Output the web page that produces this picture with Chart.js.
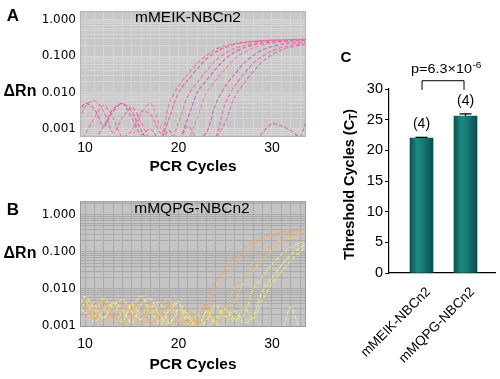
<!DOCTYPE html>
<html><head><meta charset="utf-8">
<script src="https://cdn.jsdelivr.net/npm/chart.js@4/dist/chart.umd.min.js"></script>
<style>
html,body{margin:0;padding:0;background:#fff;}
body{width:500px;height:379px;position:relative;overflow:hidden;font-family:"Liberation Sans",Arial,sans-serif;}
canvas{position:absolute;}
.lbl{position:absolute;font-weight:bold;color:#000;text-align:center;white-space:nowrap;}
</style></head><body>
<canvas id="ca" width="320" height="190" style="left:0;top:0"></canvas>
<canvas id="cb" width="320" height="189" style="left:0;top:190px"></canvas>
<canvas id="cc" width="180" height="379" style="left:320px;top:0"></canvas>
<div class="lbl" style="left:3px;top:6px;width:20px;font-size:17px;line-height:19px;">A</div>
<div class="lbl" style="left:0;top:82px;width:40px;font-size:16px;line-height:18px;">ΔRn</div>
<div class="lbl" style="left:3px;top:200px;width:20px;font-size:17px;line-height:19px;">B</div>
<div class="lbl" style="left:0;top:243.5px;width:40px;font-size:16px;line-height:18px;">ΔRn</div>
<div class="lbl" style="left:336px;top:48px;width:20px;font-size:15px;line-height:17px;">C</div>
<script>
// ---------------- data ----------------
const CYCLES = [9,10,11,12,13,14,15,16,17,18,19,20,21,22,23,24,25,26,27,28,29,30,31,32,33,34];
const Y_TICKS = [0.001, 0.01, 0.1, 1];
const X_TICKS = [10, 20, 30];

// Panel A: mMEIK-NBCn2 amplification curves (delta Rn per cycle 9..34)
const MEIK_1 = [0.0009,0.004,0.006,0.003,0.0008,0.002,0.004,0.0015,0.0005,0.0004,0.005,0.015,0.032,0.065,0.105,0.155,0.195,0.225,0.245,0.26,0.27,0.278,0.285,0.29,0.295,0.298];
const MEIK_2 = [0.002,0.005,0.0035,0.0012,0.003,0.005,0.002,0.0007,0.001,0.0005,0.002,0.01,0.022,0.045,0.085,0.13,0.175,0.21,0.235,0.255,0.265,0.275,0.28,0.285,0.29,0.292];
const MEIK_3 = [0.0003,0.0007,0.002,0.0045,0.002,0.0006,0.0009,0.003,0.0025,0.0008,0.0004,0.0015,0.008,0.019,0.04,0.078,0.12,0.165,0.2,0.23,0.25,0.262,0.272,0.278,0.283,0.287];
const MEIK_4 = [0.0004,0.0003,0.0005,0.0012,0.0035,0.005,0.003,0.0009,0.0004,0.0003,0.0006,0.0005,0.002,0.01,0.022,0.045,0.085,0.13,0.172,0.205,0.23,0.248,0.26,0.268,0.275,0.28];
const MEIK_5 = [0.0003,0.0004,0.0003,0.0005,0.0004,0.0003,0.0006,0.0025,0.005,0.0012,0.0004,0.0003,0.0005,0.002,0.01,0.022,0.045,0.085,0.128,0.168,0.2,0.225,0.242,0.255,0.263,0.27];
const MEIK_6 = [0.0003,0.0003,0.0004,0.0003,0.0003,0.0004,0.0003,0.0004,0.0003,0.0004,0.0009,0.0003,0.0004,0.0005,0.0008,0.005,0.015,0.032,0.065,0.105,0.15,0.185,0.21,0.228,0.24,0.25];
const MEIK_7 = [0.0003,0.0003,0.0003,0.0003,0.0003,0.0003,0.0003,0.0003,0.0003,0.0003,0.0003,0.0004,0.0012,0.0005,0.0003,0.0006,0.005,0.015,0.032,0.065,0.1,0.14,0.175,0.2,0.215,0.228];
const MEIK_8 = [0.0003,0.0003,0.0003,0.0003,0.0003,0.0003,0.0003,0.0003,0.0003,0.0003,0.0003,0.0003,0.0003,0.0003,0.0004,0.0006,0.0015,0.0075,0.018,0.038,0.072,0.11,0.15,0.18,0.2,0.215];
const MEIK_NTC = [0.0003,0.0003,0.0003,0.0003,0.0003,0.0003,0.0003,0.0003,0.0003,0.0003,0.0003,0.0003,0.0003,0.0003,0.0003,0.0003,0.0003,0.0003,0.0003,0.0003,0.0008,0.0014,0.0012,0.0009,0.0006,0.004];

// Panel B: mMQPG-NBCn2 amplification curves
const MQPG_1 = [0.006,0.003,0.0015,0.004,0.0025,0.001,0.003,0.0045,0.0012,0.002,0.0035,0.0009,0.0015,0.0008,0.0055,0.016,0.035,0.07,0.125,0.19,0.25,0.3,0.34,0.37,0.39,0.4];
const MQPG_2 = [0.009,0.004,0.002,0.005,0.0015,0.0035,0.002,0.0012,0.004,0.0025,0.001,0.002,0.003,0.0012,0.0018,0.009,0.02,0.044,0.085,0.145,0.21,0.265,0.31,0.345,0.37,0.385];
const MQPG_3 = [0.004,0.0055,0.0025,0.0012,0.003,0.005,0.0022,0.001,0.0028,0.0018,0.004,0.0015,0.0009,0.0025,0.004,0.0012,0.0025,0.011,0.024,0.05,0.095,0.155,0.215,0.265,0.305,0.335];
const MQPG_4 = [0.0025,0.0015,0.0045,0.003,0.0011,0.0024,0.0038,0.0016,0.0009,0.0032,0.0052,0.0014,0.0022,0.001,0.0019,0.0035,0.0011,0.0045,0.014,0.03,0.062,0.11,0.17,0.23,0.275,0.31];
const MQPG_5 = [0.0032,0.0048,0.0018,0.0055,0.0026,0.0013,0.004,0.0021,0.0033,0.0011,0.0026,0.0042,0.0017,0.0009,0.0024,0.0013,0.003,0.0016,0.002,0.01,0.022,0.046,0.085,0.13,0.175,0.21];
const MQPG_6 = [0.0058,0.0022,0.0035,0.0016,0.0045,0.0028,0.0012,0.0038,0.0054,0.0019,0.0011,0.0029,0.0021,0.0008,0.0014,0.0036,0.0018,0.0025,0.0012,0.0018,0.009,0.02,0.043,0.082,0.13,0.18];
const MQPG_7 = [0.0075,0.003,0.0013,0.0027,0.0041,0.0019,0.0031,0.0064,0.0023,0.0014,0.0026,0.0047,0.0011,0.0021,0.0009,0.0017,0.0028,0.0013,0.0031,0.0016,0.005,0.014,0.029,0.058,0.1,0.15];
const MQPG_NTC = [0.002,0.0062,0.0028,0.0017,0.0034,0.0052,0.0024,0.0015,0.0029,0.0043,0.0012,0.0022,0.0016,0.0008,0.0025,0.0012,0.0006,0.0009,0.0005,0.0006,0.0008,0.0005,0.0007,0.0032,0.0009,0.0006];

// Panel C: threshold cycles
const C_CATEGORIES = ['mMEIK-NBCn2', 'mMQPG-NBCn2'];
const C_MEANS = [22.0, 25.6];
const C_SEM = [0.1, 0.35];
const C_N = [4, 4];
const C_Y_TICKS = [0, 5, 10, 15, 20, 25, 30];
const P_TEXT = 'p=6.3×10';
const P_EXP = '-6';

// ---------------- styles ----------------
const MEIK_COLORS = ['#f07298','#e262aa','#f47a92','#dc5eb2','#f28aa6','#d466b0','#ee7098','#d878ba','#d070b0'];
const MQPG_COLORS = ['#f2a466','#f4b072','#f0b86c','#f5c07e','#eee274','#f3ea86','#ece46e','#f0e88e'];

Chart.defaults.font.family = '"Liberation Sans", Arial, sans-serif';

function isDecade(v){ const l = Math.log10(v); return Math.abs(l - Math.round(l)) < 1e-6; }
function logGrid(min, max){
  const out = [];
  for (let e = -4; e <= 0; e++) for (let k = 1; k <= 9; k++) {
    const v = parseFloat((k * Math.pow(10, e)).toPrecision(3));
    if (v >= min && v <= max) out.push(v);
  }
  return out;
}
const X_GRID = []; for (let c = 10; c <= 33; c++) X_GRID.push(c);

const plotFrame = {
  id: 'plotFrame',
  beforeDraw(chart, args, o){
    const {ctx, chartArea: a} = chart;
    ctx.save(); ctx.fillStyle = o.bg;
    ctx.fillRect(a.left, a.top, a.right - a.left, a.bottom - a.top);
    ctx.restore();
  },
  afterDraw(chart, args, o){
    const {ctx, chartArea: a} = chart;
    ctx.save();
    ctx.strokeStyle = o.border; ctx.lineWidth = 1;
    ctx.strokeRect(a.left + 0.5, a.top + 0.5, a.right - a.left - 1, a.bottom - a.top - 1);
    ctx.font = '15.5px "Liberation Sans", Arial, sans-serif';
    ctx.fillStyle = '#000'; ctx.textAlign = 'center'; ctx.textBaseline = 'middle';
    ctx.fillText(o.title, o.titleX, o.titleY);
    ctx.restore();
  }
};

function ampChart(id, series, colors, cfg){
  return new Chart(document.getElementById(id), {
    type: 'line',
    data: { labels: CYCLES, datasets: series.map((vals, i) => ({
      data: vals, borderColor: colors[i], borderWidth: 1.1, borderDash: [4, 2],
      pointRadius: 0, tension: 0.3, fill: false })) },
    options: {
      responsive: false, animation: false, devicePixelRatio: 1,
      layout: { padding: { left: 0, right: 14, top: cfg.padTop, bottom: 0 } },
      plugins: { legend: { display: false }, tooltip: { enabled: false },
        plotFrame: { bg: cfg.bg, border: cfg.border, title: cfg.title, titleX: cfg.titleX, titleY: cfg.titleY } },
      scales: {
        x: { type: 'linear', min: 9.46, max: 33.64, offset: false,
          afterFit: s => { s.height = cfg.xAxisH; },
          afterBuildTicks: s => { s.ticks = X_GRID.map(v => ({ value: v })); },
          ticks: { autoSkip: false, maxRotation: 0, minRotation: 0, padding: cfg.xTickPad, color: '#000',
            font: { size: 14 }, callback: v => X_TICKS.includes(v) ? String(v) : '' },
          grid: { drawTicks: false, color: cfg.grid, lineWidth: 1 },
          border: { display: false },
          title: { display: true, text: 'PCR Cycles', color: '#000', font: { size: 15.5, weight: 'bold' },
            padding: { top: 0, bottom: cfg.titlePadB } } },
        y: { type: 'logarithmic', min: cfg.yMin, max: cfg.yMax,
          afterFit: s => { s.width = 80; },
          afterBuildTicks: s => { s.ticks = logGrid(cfg.yMin, cfg.yMax).map(v => ({ value: v })); },
          ticks: { autoSkip: false, padding: 4, color: '#000', font: { family: '"DejaVu Sans"', size: 12 },
            callback: v => (isDecade(v) && Y_TICKS.some(t => Math.abs(t - v) / t < 1e-6)) ? Number(v).toFixed(3) : '' },
          grid: { drawTicks: false, color: cfg.grid, lineWidth: 1 },
          border: { display: false } }
      }
    },
    plugins: [plotFrame]
  });
}

ampChart('ca', [MEIK_1, MEIK_2, MEIK_3, MEIK_4, MEIK_5, MEIK_6, MEIK_7, MEIK_8, MEIK_NTC], MEIK_COLORS, {
  padTop: 4, xAxisH: 53, xTickPad: 3, titlePadB: 14, yMin: 0.00063, yMax: 1.74,
  bg: '#c8c8c8', grid: '#d6d6d6', border: '#b4b4b4', title: 'mMEIK-NBCn2', titleX: 188, titleY: 17.5 });

ampChart('cb', [MQPG_1, MQPG_2, MQPG_3, MQPG_4, MQPG_5, MQPG_6, MQPG_7, MQPG_NTC], MQPG_COLORS, {
  padTop: 5, xAxisH: 52, xTickPad: 9, titlePadB: 5, yMin: 0.00094, yMax: 2.33,
  bg: '#c4c4c4', grid: '#aaaaaa', border: '#9a9a9a', title: 'mMQPG-NBCn2', titleX: 192, titleY: 18.5 });

function barGradient(c){
  const ch = c.chart, xs = ch.scales && ch.scales.x;
  if (c.type !== 'data' || !xs || !ch.chartArea) return '#13706c';
  const cx = xs.getPixelForValue(c.dataIndex), w = 23;
  if (!isFinite(cx)) return '#13706c';
  const g = ch.ctx.createLinearGradient(cx - w / 2, 0, cx + w / 2, 0);
  g.addColorStop(0, '#0a5252'); g.addColorStop(0.3, '#1d8a83');
  g.addColorStop(0.55, '#187c75'); g.addColorStop(1, '#0a4c4c');
  return g;
}

const barDeco = {
  id: 'barDeco',
  afterDatasetsDraw(chart){
    const {ctx, scales: {x, y}} = chart;
    ctx.save();
    ctx.strokeStyle = '#000'; ctx.fillStyle = '#000'; ctx.lineWidth = 1.2;
    ctx.font = '14px "Liberation Sans", Arial, sans-serif';
    ctx.textAlign = 'center'; ctx.textBaseline = 'middle';
    C_MEANS.forEach((m, i) => {
      const cx = x.getPixelForValue(i);
      const yt = y.getPixelForValue(m + C_SEM[i]);
      const yb = y.getPixelForValue(m);
      ctx.beginPath(); ctx.moveTo(cx, yb); ctx.lineTo(cx, yt);
      ctx.moveTo(cx - 6, yt); ctx.lineTo(cx + 6, yt); ctx.stroke();
      ctx.fillText('(' + C_N[i] + ')', cx, yt - 13);
    });
    // significance bracket
    const x0 = x.getPixelForValue(0) + 0.5, x1 = x.getPixelForValue(1) - 1.5;
    const yTop = y.getPixelForValue(31.35), yEnd = y.getPixelForValue(29.85);
    ctx.lineWidth = 1;
    ctx.beginPath(); ctx.moveTo(x0, yEnd); ctx.lineTo(x0, yTop); ctx.lineTo(x1, yTop); ctx.lineTo(x1, yEnd); ctx.stroke();
    // p-value with superscript
    const sx = 1.2;
    ctx.font = '12px "Liberation Sans", Arial, sans-serif';
    const w1 = ctx.measureText(P_TEXT).width * sx;
    ctx.font = '8.5px "Liberation Sans", Arial, sans-serif';
    const w2 = ctx.measureText(P_EXP).width * sx;
    const start = (x0 + x1) / 2 + 3 - (w1 + w2) / 2;
    const base = yTop - 7.5;
    ctx.textAlign = 'left'; ctx.textBaseline = 'alphabetic';
    ctx.save(); ctx.translate(start, base); ctx.scale(sx, 1);
    ctx.font = '12px "Liberation Sans", Arial, sans-serif'; ctx.fillText(P_TEXT, 0, 0);
    ctx.restore();
    ctx.save(); ctx.translate(start + w1 + 0.5, base - 5); ctx.scale(sx, 1);
    ctx.font = '8.5px "Liberation Sans", Arial, sans-serif'; ctx.fillText(P_EXP, 0, 0);
    ctx.restore();
    ctx.restore();
  },
  afterDraw(chart){
    const ctx = chart.ctx;
    ctx.save();
    ctx.translate(29, 184.5); ctx.rotate(-Math.PI / 2);
    ctx.fillStyle = '#000'; ctx.textBaseline = 'alphabetic'; ctx.textAlign = 'left';
    const fMain = 'bold 14.5px "Liberation Sans", Arial, sans-serif';
    const fSub = 'bold 10px "Liberation Sans", Arial, sans-serif';
    const p1 = 'Threshold Cycles (C', p2 = 'T', p3 = ')';
    ctx.font = fMain; const a = ctx.measureText(p1).width, c = ctx.measureText(p3).width;
    ctx.font = fSub; const b = ctx.measureText(p2).width;
    let xs = -(a + b + c) / 2;
    ctx.font = fMain; ctx.fillText(p1, xs, 5);
    ctx.font = fSub; ctx.fillText(p2, xs + a, 8);
    ctx.font = fMain; ctx.fillText(p3, xs + a + b, 5);
    ctx.restore();
  }
};

new Chart(document.getElementById('cc'), {
  type: 'bar',
  data: { datasets: [{ data: C_MEANS.map((v, i) => ({ x: i, y: v })), barThickness: 23,
    backgroundColor: barGradient, borderWidth: 0 }] },
  options: {
    responsive: false, animation: false, devicePixelRatio: 1,
    layout: { padding: { left: 0, right: 5, top: 89, bottom: 0 } },
    plugins: { legend: { display: false }, tooltip: { enabled: false } },
    scales: {
      x: { type: 'linear', min: -0.739, max: 1.67, offset: false,
        afterFit: s => { s.height = 106; },
        afterBuildTicks: s => { s.ticks = C_CATEGORIES.map((c, i) => ({ value: i })); },
        ticks: { autoSkip: false, minRotation: 45, maxRotation: 45, padding: 11, labelOffset: 7, color: '#000',
          font: { size: 13.5 }, callback: v => C_CATEGORIES[v] },
        grid: { display: false, drawTicks: false },
        border: { display: true, color: '#000', width: 1.2 } },
      y: { type: 'linear', min: 0, max: 30,
        afterFit: s => { s.width = 69; },
        afterBuildTicks: s => { s.ticks = C_Y_TICKS.map(v => ({ value: v })); },
        ticks: { padding: 2, color: '#000', font: { size: 14.5 } },
        grid: { drawOnChartArea: false, drawTicks: true, tickLength: 4, color: '#000', lineWidth: 1 },
        border: { display: true, color: '#000', width: 1.2 } }
    }
  },
  plugins: [barDeco]
});
</script>
</body></html>
